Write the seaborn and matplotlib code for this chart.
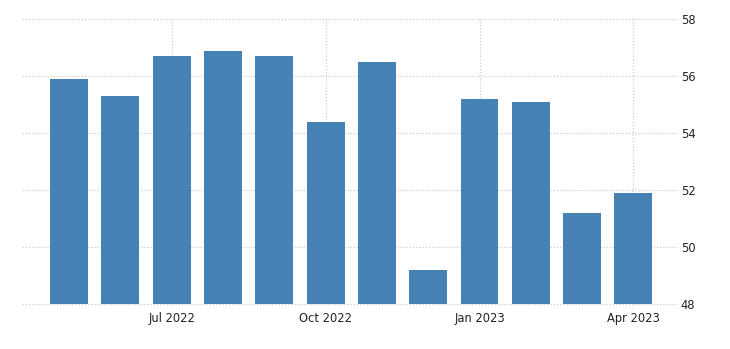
import matplotlib
matplotlib.use("Agg")
import matplotlib.pyplot as plt
import seaborn as sns
import pandas as pd

months = ["May 2022", "Jun 2022", "Jul 2022", "Aug 2022", "Sep 2022", "Oct 2022",
          "Nov 2022", "Dec 2022", "Jan 2023", "Feb 2023", "Mar 2023", "Apr 2023"]
values = [55.9, 55.3, 56.7, 56.9, 56.7, 54.4, 56.5, 49.2, 55.2, 55.1, 51.2, 51.9]
tick_labels = ["Jul 2022", "Oct 2022", "Jan 2023", "Apr 2023"]
y_ticks = [48, 50, 52, 54, 56, 58]

df = pd.DataFrame({"month": months, "value": values})

sns.set_theme(style="white")
plt.rcParams['font.family'] = ['DejaVu Sans']

fig = plt.figure(figsize=(7.30, 3.49), dpi=100)
ax = fig.add_axes([22/730, 1 - 304/349, (678-22)/730, (304-19.3)/349])

sns.barplot(data=df, x="month", y="value", order=months, color="#4682B4",
            saturation=1, width=0.74, linewidth=0, edgecolor="none", ax=ax)

ax.set_ylim(48, 58)
ax.set_xlim(-0.92, 11.87)
ax.set_yticks(y_ticks)
ax.set_yticklabels([str(t) for t in y_ticks])
ax.yaxis.tick_right()
ax.set_xticks([months.index(m) for m in tick_labels])
ax.set_xticklabels(tick_labels)
ax.set_xlabel("")
ax.set_ylabel("")
for s in ax.spines.values():
    s.set_visible(False)
ax.set_axisbelow(True)
ax.grid(True, axis="both", color="#cccccc", linestyle=(0, (1, 1.5)), linewidth=0.9)
for gl in ax.get_xgridlines() + ax.get_ygridlines():
    gl.set_clip_on(False)
ax.tick_params(axis="x", length=4, color="#cccccc", width=0.8, labelsize=8.3,
               labelcolor="#222222", pad=2)
ax.tick_params(axis="y", length=0, labelsize=8.3, labelcolor="#222222", pad=2)

fig.savefig("out.png", dpi=100)
